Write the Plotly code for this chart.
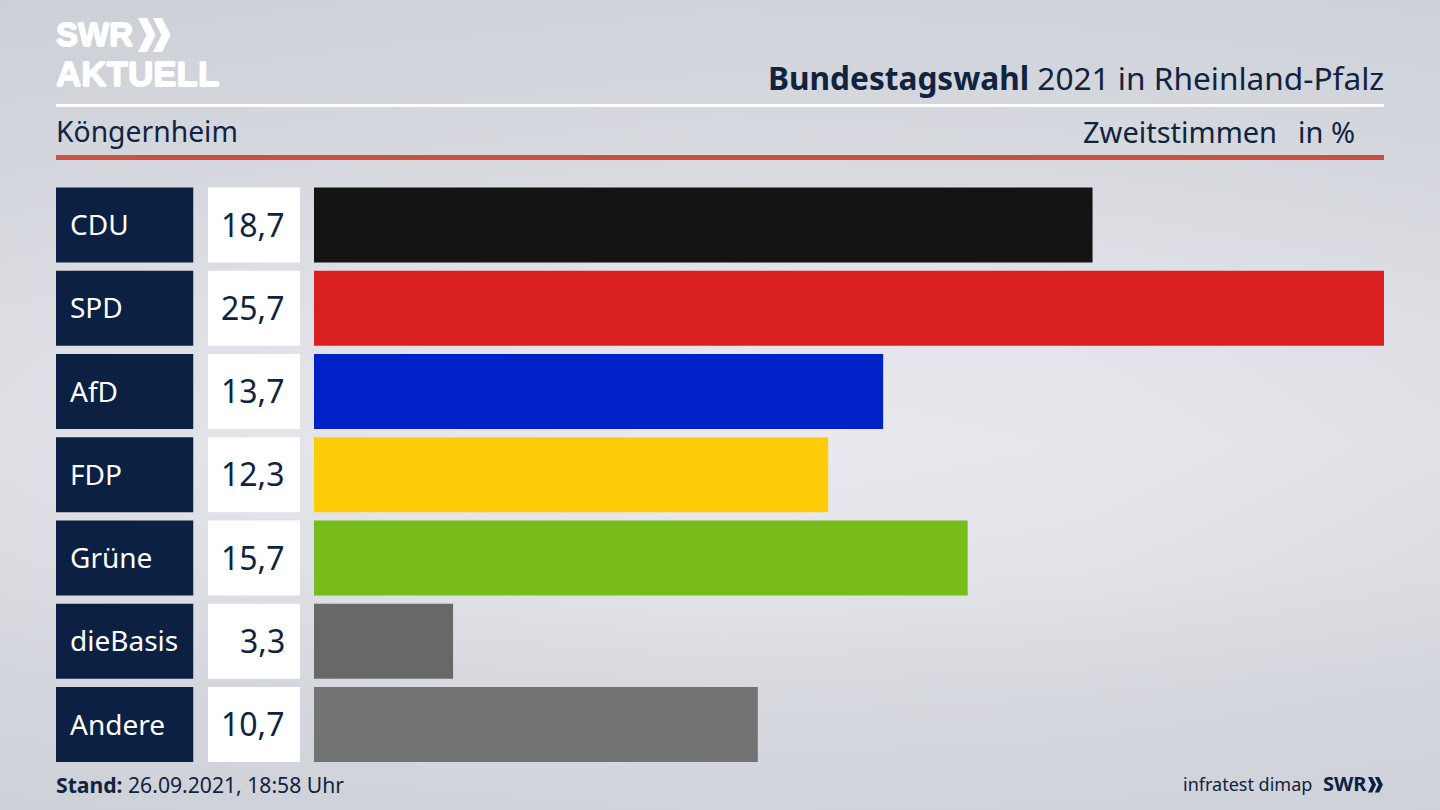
import plotly.graph_objects as go

W = 1440
H = 810

parties = ["CDU", "SPD", "AfD", "FDP", "Grüne", "dieBasis", "Andere"]
values = [18.7, 25.7, 13.67, 12.35, 15.7, 3.34, 10.66]
value_labels = ["18,7", "25,7", "13,7", "12,3", "15,7", "3,3", "10,7"]
bar_colors = ["#141414", "#d9201f", "#0021c8", "#ffcc09", "#78bc1b", "#686868", "#727374"]

# background shading, rows from top to bottom (0 dark .. 1 light)
bg_x = [0, 0.25, 0.5, 0.75, 1]
bg_y = [1, 0.8, 0.6, 0.45, 0.3, 0.15, 0]
bg_shade = [
    [0.05, 0.12, 0.18, 0.15, 0.10],
    [0.28, 0.38, 0.45, 0.42, 0.32],
    [0.55, 0.72, 0.85, 0.78, 0.60],
    [0.62, 0.85, 1.00, 0.90, 0.68],
    [0.50, 0.70, 0.82, 0.75, 0.55],
    [0.25, 0.35, 0.42, 0.38, 0.28],
    [0.10, 0.15, 0.20, 0.18, 0.12],
]

NAVY = "#0b2042"
TEXT = "#10233f"
FONT = "Noto Sans"
LOGO_FONT = "Liberation Sans"
# the logo lettering is heavier than any installed bold
LOGO_SHADOW = "0.8px 0 0 #fff, -0.8px 0 0 #fff, 0 0.8px 0 #fff, 0 -0.8px 0 #fff"


def px(x):
    return x / W


def py(y):
    return 1 - y / H


def label(text, x, y, size, color=TEXT, anchor="left", family=FONT, shadow="none"):
    return dict(text=text, x=px(x), y=py(y), xref="paper", yref="paper", xanchor=anchor,
                yanchor="middle", showarrow=False,
                font=dict(family=family, size=size, color=color, shadow=shadow))


def rule(x0, x1, y0, y1, color):
    return dict(type="rect", xref="paper", yref="paper", x0=px(x0), x1=px(x1), y0=py(y0), y1=py(y1),
                fillcolor=color, line_width=0)


def chevrons(x, y, h, color):
    # double arrow of the SWR logo, x/y = top left in pixels
    parts = []
    for dx in (0, h * 0.44):
        pts = [(x + dx, y), (x + dx + h * 0.27, y), (x + dx + h * 0.52, y + h / 2),
               (x + dx + h * 0.27, y + h), (x + dx, y + h), (x + dx + h * 0.25, y + h / 2)]
        path = "M " + " L ".join(f"{px(a):.5f},{py(b):.5f}" for a, b in pts) + " Z"
        parts.append(dict(type="path", xref="paper", yref="paper", path=path, fillcolor=color, line_width=0))
    return parts


fig = go.Figure()

fig.add_trace(go.Heatmap(
    x=bg_x, y=bg_y, z=bg_shade, zmin=0, zmax=1, zsmooth="best", showscale=False, hoverinfo="skip",
    colorscale=[[0, "#cbced5"], [1, "#e9eaef"]],
))

fig.add_trace(go.Bar(
    x=values, y=parties, orientation="h", marker=dict(color=bar_colors, line_width=0),
    xaxis="x2", yaxis="y2", hoverinfo="skip",
))
fig.add_trace(go.Bar(
    x=[1] * len(parties), y=parties, orientation="h", marker=dict(color=NAVY, line_width=0),
    xaxis="x3", yaxis="y2", hoverinfo="skip",
))
fig.add_trace(go.Bar(
    x=[1] * len(parties), y=parties, orientation="h", marker=dict(color="#ffffff", line_width=0),
    xaxis="x4", yaxis="y2", hoverinfo="skip",
))

annotations = [
    label("<b>SWR</b>", 54, 35, 33, "#ffffff", family=LOGO_FONT, shadow=LOGO_SHADOW),
    label("<b>AKTUELL</b>", 54, 73, 35, "#ffffff", family=LOGO_FONT, shadow=LOGO_SHADOW),
    label("<b>Bundestagswahl</b> 2021 in Rheinland-Pfalz", 1386, 77, 31.6, anchor="right"),
    label("Köngernheim", 54, 131, 28.3),
    label("Zweitstimmen", 1279, 131, 29, anchor="right"),
    label("in %", 1357, 131, 29, anchor="right"),
    label("<b>Stand:</b> 26.09.2021, 18:58 Uhr", 54, 784, 21.15),
    label("infratest dimap", 1314, 784, 18, anchor="right"),
    label("<b>SWR</b>", 1321, 783, 20, NAVY),
]
for party, text in zip(parties, value_labels):
    annotations.append(dict(text=party, x=px(68), y=party, xref="paper", yref="y2", xanchor="left",
                            yanchor="middle", yshift=1, showarrow=False,
                            font=dict(family=FONT, size=28, color="#ffffff")))
    annotations.append(dict(text=text, x=px(287), y=party, xref="paper", yref="y2", xanchor="right",
                            yanchor="middle", yshift=1, showarrow=False,
                            font=dict(family=FONT, size=32, color=TEXT)))

shapes = [
    rule(56, 1384, 104, 107, "#ffffff"),
    rule(56, 1384, 155, 160, "#c8523f"),
]
shapes += chevrons(138, 18, 34, "#ffffff")
shapes += chevrons(1368, 777, 15.5, NAVY)

hidden = dict(visible=False, fixedrange=True)
fig.update_layout(
    width=W,
    height=H,
    margin=dict(l=0, r=0, t=0, b=0),
    showlegend=False,
    barmode="overlay",
    bargap=0.099,
    paper_bgcolor="#dcdee3",
    plot_bgcolor="rgba(0,0,0,0)",
    xaxis=dict(domain=[0, 1], range=[0, 1], **hidden),
    yaxis=dict(domain=[0, 1], range=[0, 1], **hidden),
    xaxis2=dict(domain=[px(314), px(1384)], range=[0, 25.7], anchor="y2", **hidden),
    xaxis3=dict(domain=[px(56), px(193.5)], range=[0, 1], anchor="y2", **hidden),
    xaxis4=dict(domain=[px(208), px(300)], range=[0, 1], anchor="y2", **hidden),
    yaxis2=dict(domain=[py(766.125), py(183.375)], type="category", categoryorder="array",
                categoryarray=parties, range=[6.5, -0.5], anchor="x2", **hidden),
    annotations=annotations,
    shapes=shapes,
)

fig.write_html("out.html", config=dict(displayModeBar=False),
               post_script="document.body.style.margin='0';")
